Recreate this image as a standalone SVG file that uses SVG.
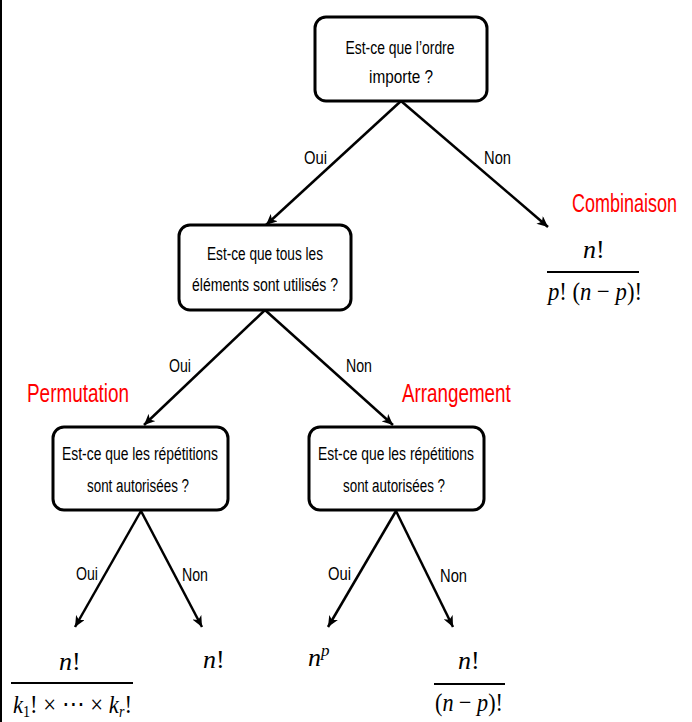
<svg xmlns="http://www.w3.org/2000/svg" width="692" height="722" viewBox="0 0 692 722">
<defs>
<marker id="ah" markerUnits="userSpaceOnUse" markerWidth="12" markerHeight="10" refX="11" refY="5" orient="auto">
<path d="M0,0 L11,5 L0,10 L3,5 z" fill="#000"/>
</marker>
<style>
.box{fill:#fff;stroke:#000;stroke-width:3}
.q{font-family:"Liberation Sans","Open Sans",sans-serif;font-size:18px;fill:#000;text-anchor:middle}
.lbl{font-family:"Liberation Sans","Open Sans",sans-serif;font-size:18px;fill:#000}
.red{font-family:"Liberation Sans","Open Sans",sans-serif;font-size:25px;fill:#ff0000}
.edge{stroke:#000;stroke-width:2.5;fill:none;marker-end:url(#ah)}
.m{font-family:"Liberation Serif","DejaVu Serif",serif;font-size:26px;fill:#000}
.mi{font-style:italic}
.fl{stroke:#000;stroke-width:2}
</style>
</defs>
<rect x="0" y="0" width="692" height="722" fill="#fff"/>
<rect x="0" y="0" width="2" height="722" fill="#000"/>

<g id="connectors">
<line class="edge" x1="401" y1="101" x2="266" y2="225"/>
<line class="edge" x1="401" y1="101" x2="548" y2="227"/>
<line class="edge" x1="265" y1="310" x2="144" y2="425"/>
<line class="edge" x1="265" y1="310" x2="393" y2="425"/>
<line class="edge" x1="141" y1="511" x2="75" y2="627"/>
<line class="edge" x1="141" y1="511" x2="202" y2="627"/>
<line class="edge" x1="396" y1="511" x2="328" y2="627"/>
<line class="edge" x1="396" y1="511" x2="453" y2="627"/>
<text class="lbl" x="304" y="164" textLength="23" lengthAdjust="spacingAndGlyphs">Oui</text>
<text class="lbl" x="484" y="164" textLength="27" lengthAdjust="spacingAndGlyphs">Non</text>
<text class="lbl" x="169" y="372" textLength="22" lengthAdjust="spacingAndGlyphs">Oui</text>
<text class="lbl" x="346" y="372" textLength="26" lengthAdjust="spacingAndGlyphs">Non</text>
<text class="lbl" x="76" y="580" textLength="22" lengthAdjust="spacingAndGlyphs">Oui</text>
<text class="lbl" x="182" y="581" textLength="26" lengthAdjust="spacingAndGlyphs">Non</text>
<text class="lbl" x="328" y="580" textLength="23" lengthAdjust="spacingAndGlyphs">Oui</text>
<text class="lbl" x="440" y="582" textLength="27" lengthAdjust="spacingAndGlyphs">Non</text>
</g>

<g id="n-ordre">
<rect class="box" x="315" y="17" width="172" height="84" rx="11"/>
<text class="q" x="400" y="54" textLength="109" lengthAdjust="spacingAndGlyphs">Est-ce que l’ordre</text>
<text class="q" x="401" y="83" textLength="64" lengthAdjust="spacingAndGlyphs">importe ?</text>
</g>

<g id="n-tous">
<rect class="box" x="179" y="225" width="172" height="85" rx="11"/>
<text class="q" x="265" y="260" textLength="116" lengthAdjust="spacingAndGlyphs">Est-ce que tous les</text>
<text class="q" x="265" y="291" textLength="146" lengthAdjust="spacingAndGlyphs">éléments sont utilisés ?</text>
</g>

<g id="n-rep-gauche">
<rect class="box" x="53" y="427" width="175" height="83" rx="11"/>
<text class="q" x="140" y="460" textLength="156" lengthAdjust="spacingAndGlyphs">Est-ce que les répétitions</text>
<text class="q" x="138" y="492" textLength="102" lengthAdjust="spacingAndGlyphs">sont autorisées ?</text>
</g>

<g id="n-rep-droite">
<rect class="box" x="309" y="427" width="175" height="83" rx="11"/>
<text class="q" x="396" y="460" textLength="156" lengthAdjust="spacingAndGlyphs">Est-ce que les répétitions</text>
<text class="q" x="394" y="492" textLength="102" lengthAdjust="spacingAndGlyphs">sont autorisées ?</text>
</g>

<g id="combinaison">
<text class="red" transform="translate(572,212) scale(0.75,1)" x="0" y="0" textLength="140" lengthAdjust="spacingAndGlyphs">Combinaison</text>
<text class="m" x="583" y="258"><tspan class="mi">n</tspan>!</text>
<line class="fl" x1="547" y1="272" x2="639" y2="272"/>
<text class="m" x="548" y="300" textLength="94" lengthAdjust="spacingAndGlyphs"><tspan class="mi">p</tspan>! (<tspan class="mi">n</tspan> − <tspan class="mi">p</tspan>)!</text>
</g>

<g id="permutation">
<text class="red" transform="translate(27,402) scale(0.75,1)" x="0" y="0" textLength="136" lengthAdjust="spacingAndGlyphs">Permutation</text>
</g>

<g id="arrangement">
<text class="red" transform="translate(402,402) scale(0.75,1)" x="0" y="0" textLength="145" lengthAdjust="spacingAndGlyphs">Arrangement</text>
</g>

<g id="r-perm-oui">
<text class="m" x="59" y="670"><tspan class="mi">n</tspan>!</text>
<line class="fl" x1="11" y1="683" x2="133" y2="683"/>
<text class="m" x="13" y="713" textLength="119" lengthAdjust="spacingAndGlyphs"><tspan class="mi">k</tspan><tspan dy="4" style="font-size:16px">1</tspan><tspan dy="-4">! × ⋯ × </tspan><tspan class="mi">k</tspan><tspan class="mi" dy="4" style="font-size:16px">r</tspan><tspan dy="-4">!</tspan></text>
</g>

<g id="r-perm-non">
<text class="m" x="203" y="668"><tspan class="mi">n</tspan>!</text>
</g>

<g id="r-arr-oui">
<text class="m" x="308" y="666"><tspan class="mi">n</tspan><tspan class="mi" dy="-10" style="font-size:17px">p</tspan></text>
</g>

<g id="r-arr-non">
<text class="m" x="458" y="669"><tspan class="mi">n</tspan>!</text>
<line class="fl" x1="434" y1="684" x2="505" y2="684"/>
<text class="m" x="435" y="711" textLength="68" lengthAdjust="spacingAndGlyphs">(<tspan class="mi">n</tspan> − <tspan class="mi">p</tspan>)!</text>
</g>
</svg>
